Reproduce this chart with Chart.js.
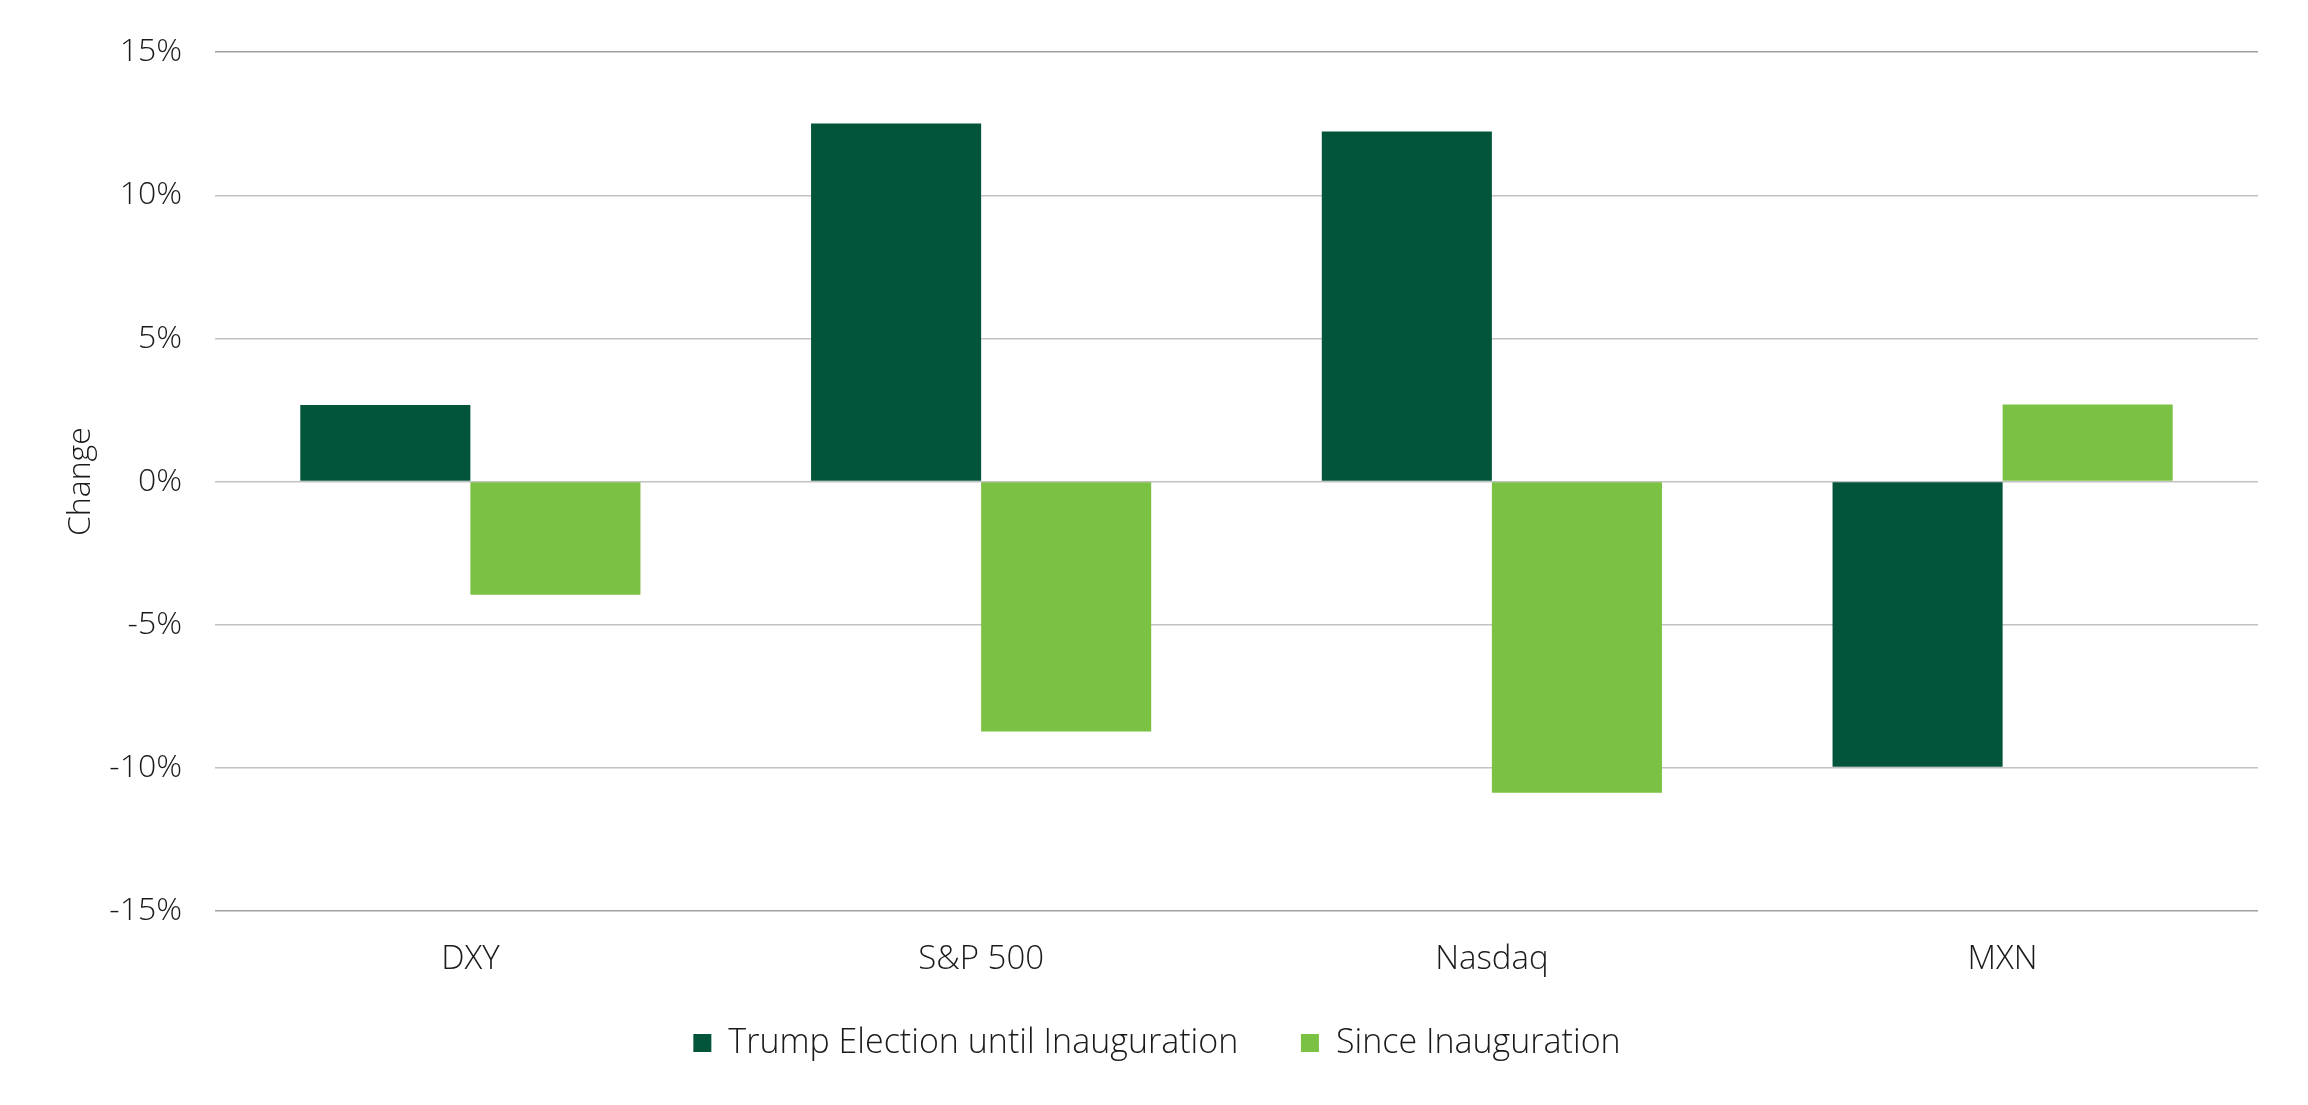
<!DOCTYPE html>
<html>
<head>
<meta charset="utf-8">
<script src="https://cdn.jsdelivr.net/npm/chart.js@4/dist/chart.umd.min.js"></script>
<style>
	html, body { margin: 0; padding: 0; background: #fff; }
	#wrap { width: 2308px; height: 1105px; }
</style>
</head>
<body>
<div id="wrap"><canvas id="changeChart" width="2308" height="1105"></canvas></div>
<script>
/* ── 데이터 ── */
var categories   = ['DXY', 'S&P 500', 'Nasdaq', 'MXN'];
var electionVals = [2.68, 12.51, 12.23, -9.96];
var sinceVals    = [-3.95, -8.73, -10.87, 2.69];
var tickValues   = [-15, -10, -5, 0, 5, 10, 15];
var seriesNames  = ['Trump Election until Inauguration', 'Since Inauguration'];

var DARK  = '#02553A';
var LIGHT = '#7BC144';
var FONT  = "'Open Sans', 'DejaVu Sans', sans-serif";
var TXT   = '#1a1a1a';

Chart.defaults.font.family = FONT;
Chart.defaults.font.weight = 300;
Chart.defaults.color = TXT;

/* ── 차트 ── */
var ctx = document.getElementById('changeChart').getContext('2d');
var chart = new Chart(ctx, {
	type: 'bar',
	data: {
		labels: categories,
		datasets: [
			{ label: seriesNames[0], data: electionVals, backgroundColor: DARK,  categoryPercentage: 0.666, barPercentage: 1.0 },
			{ label: seriesNames[1], data: sinceVals,    backgroundColor: LIGHT, categoryPercentage: 0.666, barPercentage: 1.0 }
		]
	},
	options: {
		responsive: false,
		devicePixelRatio: 1,
		animation: false,
		// 범례 중심을 오른쪽으로 옮기려고 left 패딩을 주고 y축 폭을 그만큼 줄임
		layout: { padding: { top: 50, right: 50, bottom: 35, left: 56 } },
		plugins: {
			tooltip: { enabled: false },
			legend: {
				position: 'bottom',
				labels: {
					boxWidth: 18,
					boxHeight: 18,
					padding: 45,
					font: { size: 34, family: FONT, weight: 300 },
					color: TXT,
					// 항목 사이 간격을 원본처럼 넓히기 위해 첫 항목 뒤에 공백 추가
					generateLabels: function(c) {
						var items = Chart.defaults.plugins.legend.labels.generateLabels(c);
						if (items.length) items[0].text = items[0].text + '  ';
						return items;
					}
				}
			}
		},
		scales: {
			x: {
				afterFit: function(axis) { axis.height = 70; },
				grid: { display: false, drawTicks: false },
				border: { display: false },
				ticks: { padding: 29, font: { size: 33, family: FONT, weight: 300 }, color: TXT }
			},
			y: {
				min: -15,
				max: 15,
				afterBuildTicks: function(axis) {
					axis.ticks = tickValues.map(function(v) { return { value: v }; });
				},
				afterFit: function(axis) { axis.width = 159; },
				grid: {
					drawTicks: false,
					lineWidth: 1.5,
					color: function(c) {
						var v = c.tick ? c.tick.value : 0;
						return (v === 15 || v === -15) ? '#a0a0a0' : '#c2c2c2';
					}
				},
				border: { display: false },
				ticks: {
					padding: 33,
					font: { size: 32, family: FONT, weight: 300 },
					color: TXT,
					callback: function(v) { return v + '%'; }
				},
				title: {
					display: true,
					text: 'Change',
					padding: { top: 6, bottom: 0 },
					font: { size: 32, family: FONT, weight: 300 },
					color: TXT
				}
			}
		}
	}
});
</script>
</body>
</html>
